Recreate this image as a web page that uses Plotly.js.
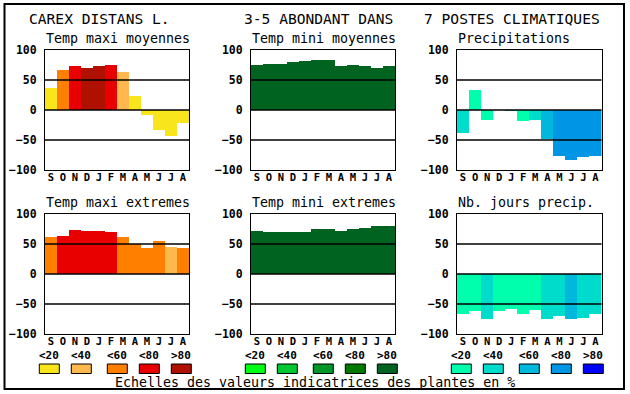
<!DOCTYPE html>
<html><head><meta charset="utf-8">
<script src="https://cdn.plot.ly/plotly-3.0.1.min.js"></script>
<style>html,body{margin:0;padding:0;background:#fff}#chart{width:630px;height:394px}</style>
</head><body><div id="chart"></div>
<script>
// ---- data ----
const months = ["S","O","N","D","J","F","M","A","M","J","J","A"];
const yTicks = [-100,-50,0,50,100];
const classLabels = ["<20","<40","<60","<80",">80"];

const tmaxMoy    = [37,67,74,70,74,75,64,24,-8,-33,-43,-22];
const tmaxMoyCls = [0,2,3,4,4,3,1,0,0,0,0,0];
const tminMoy    = [75,77,77,80,82,84,84,74,75,74,70,74];
const tminMoyCls = [4,4,4,4,4,4,4,4,4,4,4,4];
const precip     = [-38,34,-16,0,-2,-18,-16,-48,-76,-83,-78,-76];
const precipCls  = [1,0,0,0,1,0,1,2,3,3,3,3];
const tmaxExt    = [62,64,74,72,72,70,62,50,44,55,45,44];
const tmaxExtCls = [2,3,3,3,3,3,2,2,2,2,1,2];
const tminExt    = [72,70.5,70.5,70.5,70.5,75.5,75.5,72,75.5,77,80.5,80.5];
const tminExtCls = [4,4,4,4,4,4,4,4,4,4,4,4];
const jours      = [-67,-62,-75.5,-62,-58,-67,-60.5,-75.5,-70.5,-75.5,-74,-67];
const joursCls   = [0,0,1,0,0,0,0,1,1,2,1,1];

const titles = ["CAREX DISTANS L.","3-5 ABONDANT DANS","7 POSTES CLIMATIQUES"];
const panelTitles = ["Temp maxi moyennes","Temp mini moyennes","Precipitations",
                     "Temp maxi extremes","Temp mini extremes","Nb. jours precip."];
const footer = "Echelles des valeurs indicatrices des plantes en %";

// ---- styles ----
const palTemp = ["#f8e51c","#ffb84e","#ff7f00","#e80000","#b01000"];
const palGreen = ["#00ff14","#00c832","#009628","#007800","#006420"];
const palBlue = ["#00ffac","#00dccc","#00b8dc","#0096e6","#0000ff"];
const W = 630, H = 394;
const FONT = "DejaVu Sans Mono";

const panels = [
  {v: tmaxMoy, c: tmaxMoyCls, pal: palTemp},
  {v: tminMoy, c: tminMoyCls, pal: palGreen},
  {v: precip,  c: precipCls,  pal: palBlue},
  {v: tmaxExt, c: tmaxExtCls, pal: palTemp},
  {v: tminExt, c: tminExtCls, pal: palGreen},
  {v: jours,   c: joursCls,   pal: palBlue}
];
const colPx = [[45,189],[251,395],[457,601.5]];
const rowPx = [[50,170],[214,334]];
const px = x => x / W, py = y => 1 - y / H;

const data = [], layout = {
  width: W, height: H, margin: {l:0,r:0,t:0,b:0},
  paper_bgcolor: "#fff", plot_bgcolor: "#fff",
  showlegend: false, bargap: 0,
  font: {family: FONT, color: "#000"},
  shapes: [], annotations: []
};
const xIdx = months.map((m,i) => i);

panels.forEach((p, k) => {
  const r = Math.floor(k/3), c = k % 3, n = k + 1;
  const xa = "xaxis" + (n===1?"":n), ya = "yaxis" + (n===1?"":n);
  const xr = "x" + (n===1?"":n), yr = "y" + (n===1?"":n);
  data.push({type: "bar", x: xIdx, y: p.v, xaxis: xr, yaxis: yr,
    marker: {color: p.c.map(ci => p.pal[ci]), line: {width: 0}}, width: 1});
  layout[xa] = {domain: [px(colPx[c][0]), px(colPx[c][1])], anchor: yr,
    range: [-0.5, 11.5], tickvals: xIdx, ticktext: months, ticks: "",
    showgrid: false, zeroline: false, showline: true, mirror: true,
    linecolor: "#000", linewidth: 1, fixedrange: true, ticklabelstandoff: -3,
    tickfont: {family: FONT, size: 10.5, weight: "bold", color: "#000"}};
  layout[ya] = {domain: [py(rowPx[r][1]), py(rowPx[r][0])], anchor: xr,
    range: [-100, 100], tickvals: yTicks, ticks: "", showgrid: false,
    zeroline: false, showline: true, mirror: true, linecolor: "#000", linewidth: 1,
    layer: "above traces", ticklabelstandoff: 5,
    tickfont: {family: FONT, size: 11.5, weight: "bold", color: "#000"}};
  [50, 0, -50].forEach(v => layout.shapes.push({type: "line", xref: xr + " domain", yref: yr,
    x0: 0, x1: 1, y0: v, y1: v, layer: "above", line: {color: "#000", width: 1.3}}));
  layout.annotations.push({text: panelTitles[k], xref: "paper", yref: "paper",
    x: px(colPx[c][0] - 1), y: py(r===0 ? 38.5 : 202),
    showarrow: false, xanchor: "left", yanchor: "middle",
    font: {family: FONT, size: 13.3, color: "#000"}});
});

// top titles
[[27,"left"],[395,"right"],[602,"right"]].forEach((t,i) => {
  layout.annotations.push({text: titles[i], xref: "paper", yref: "paper",
    x: px(t[0]), y: py(18.5), xanchor: t[1], yanchor: "middle", showarrow: false,
    font: {family: FONT, size: 14.6, color: "#000"}});
});

// legends
const legStart = [39.3, 245.3, 451.3];
const legOff = [0, 32, 68, 100, 132];
const legPal = [palTemp, palGreen, palBlue];
legStart.forEach((x0, g) => {
  classLabels.forEach((lab, i) => {
    const xs = x0 + legOff[i];
    layout.shapes.push({type: "rect", xref: "paper", yref: "paper",
      x0: px(xs), x1: px(xs + 20), y0: py(373.5), y1: py(364),
      fillcolor: legPal[g][i], line: {color: "#000", width: 1}});
    layout.annotations.push({text: lab, xref: "paper", yref: "paper",
      x: px(xs + 10), y: py(355), xanchor: "center", yanchor: "middle", showarrow: false,
      font: {family: FONT, size: 11, weight: "bold", color: "#000"}});
  });
});
layout.annotations.push({text: footer, xref: "paper", yref: "paper",
  x: px(315), y: py(382.5), xanchor: "center", yanchor: "middle", showarrow: false,
  font: {family: FONT, size: 13.3, color: "#000"}});

// outer frame
layout.shapes.push({type: "rect", xref: "paper", yref: "paper",
  x0: px(4.5), x1: px(624), y0: py(389), y1: py(4), line: {color: "#000", width: 2}});

Plotly.newPlot("chart", data, layout, {staticPlot: true, displayModeBar: false});
</script></body></html>
